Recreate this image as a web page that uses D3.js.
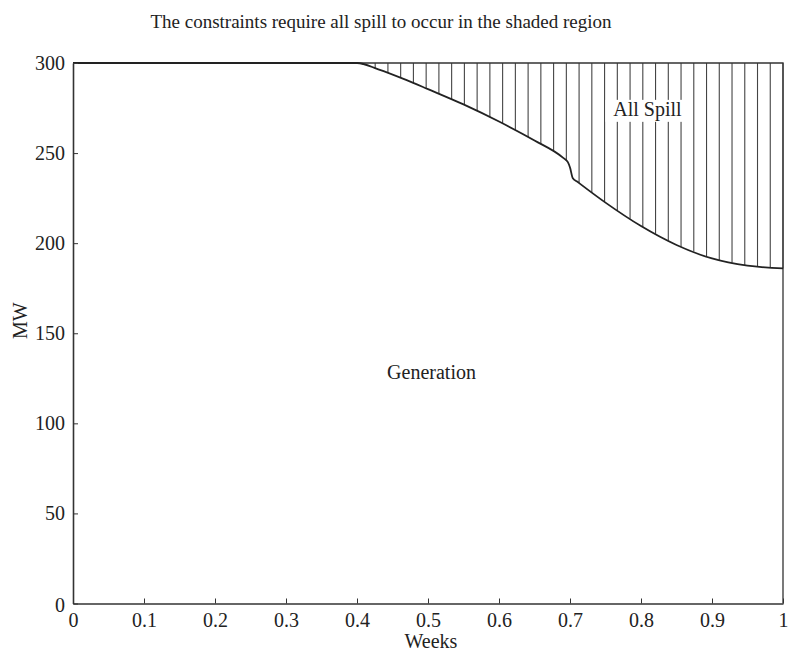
<!DOCTYPE html>
<html>
<head>
<meta charset="utf-8">
<script src="https://cdn.jsdelivr.net/npm/d3@7"></script>
<style>
  html, body { margin: 0; padding: 0; background: #fff; }
  svg { display: block; }
  text { font-family: "Liberation Serif", "DejaVu Serif", serif; fill: #222; }
</style>
</head>
<body>
<svg id="chart" width="789" height="655"></svg>
<script>
// Upper limit on generation (MW) over the week
const weeks = [0.00, 0.10, 0.20, 0.30, 0.40, 0.43, 0.47, 0.50, 0.55, 0.60, 0.65, 0.69, 0.697,
               0.700, 0.704, 0.71, 0.75, 0.80, 0.85, 0.90, 0.95, 1.00];
const maxGen = [300, 300, 300, 300, 300, 296.5, 290.5, 285.5, 277, 267.5, 257, 247.5, 245,
                242, 236, 234.2, 222.5, 209.5, 199, 191.5, 187.5, 186];
const capacity = 300;
const xTicks = [0, 0.1, 0.2, 0.3, 0.4, 0.5, 0.6, 0.7, 0.8, 0.9, 1];
const xTickLabels = ["0", "0.1", "0.2", "0.3", "0.4", "0.5", "0.6", "0.7", "0.8", "0.9", "1"];
const yTicks = [0, 50, 100, 150, 200, 250, 300];
const yTickLabels = ["0", "50", "100", "150", "200", "250", "300"];

const svg = d3.select("#chart");
const margin = { left: 73, right: 6, top: 63, bottom: 52 };
const W = 789, H = 655;

const x = d3.scaleLinear().domain([0, 1]).range([margin.left, W - margin.right]);
const y = d3.scaleLinear().domain([0, 300]).range([H - margin.bottom + 0.5, margin.top]);

const pts = weeks.map((w, i) => ({ w, v: maxGen[i] }));
const interp = (w) => {
  for (let i = 1; i < pts.length; i++) {
    if (w <= pts[i].w) {
      const a = pts[i - 1], b = pts[i];
      return a.v + (b.v - a.v) * (w - a.w) / (b.w - a.w);
    }
  }
  return pts[pts.length - 1].v;
};

// Vertical hatching over the spill region
const hatchStep = 0.01795;
const hatchX = d3.range(1, 0.4, -hatchStep);
svg.append("g")
  .selectAll("line")
  .data(hatchX)
  .join("line")
  .attr("x1", d => x(d)).attr("x2", d => x(d))
  .attr("y1", y(capacity))
  .attr("y2", d => y(interp(d)))
  .attr("stroke", "#444")
  .attr("stroke-width", 1.1);

// Capacity line and right edge
svg.append("path")
  .attr("d", `M${x(0)},${y(capacity)}H${x(1)}V${y(0)}`)
  .attr("fill", "none").attr("stroke", "#333").attr("stroke-width", 1.3);

// Region labels (spill label sits on a white patch over the hatching)
const spillLabel = svg.append("g").attr("transform", `translate(${x(0.809)},${y(274)})`);
spillLabel.append("rect").attr("x", -42).attr("y", -10).attr("width", 84).attr("height", 22).attr("fill", "#fff");
spillLabel.append("text").attr("text-anchor", "middle").attr("dy", "0.32em")
  .attr("font-size", 20).text("All Spill");

svg.append("text").attr("x", x(0.505)).attr("y", y(128)).attr("text-anchor", "middle")
  .attr("dy", "0.32em").attr("font-size", 20).text("Generation");

// Generation limit curve
svg.append("path")
  .datum(pts)
  .attr("fill", "none")
  .attr("stroke", "#222")
  .attr("stroke-width", 1.8)
  .attr("d", d3.line().x(d => x(d.w)).y(d => y(d.v)).curve(d3.curveMonotoneX));

// Axes
const xAxis = d3.axisBottom(x).tickValues(xTicks)
  .tickFormat((d, i) => xTickLabels[i]).tickSizeInner(-5).tickSizeOuter(0).tickPadding(9);
const gx = svg.append("g").attr("transform", `translate(0,${y(0)})`).call(xAxis);
gx.select(".domain").attr("stroke", "#333").attr("stroke-width", 1.6);
gx.selectAll(".tick line").attr("stroke", "#333");
gx.selectAll(".tick text").attr("font-size", 20).attr("font-family", "Liberation Serif").attr("fill", "#222");

const yAxis = d3.axisLeft(y).tickValues(yTicks)
  .tickFormat((d, i) => yTickLabels[i]).tickSizeInner(-5).tickSizeOuter(0).tickPadding(8);
const gy = svg.append("g").attr("transform", `translate(${x(0)},0)`).call(yAxis);
gy.select(".domain").attr("stroke", "#333").attr("stroke-width", 1.6);
gy.selectAll(".tick line").attr("stroke", "#333");
gy.selectAll(".tick text").attr("font-size", 20).attr("font-family", "Liberation Serif").attr("fill", "#222");
gy.selectAll(".tick").filter(d => d === 0).select("text").attr("dy", "0.42em");

// Titles
svg.append("text").attr("x", 381).attr("y", 28).attr("text-anchor", "middle")
  .attr("font-size", 19).text("The constraints require all spill to occur in the shaded region");
svg.append("text").attr("x", 431).attr("y", 648).attr("text-anchor", "middle")
  .attr("font-size", 20).text("Weeks");
svg.append("text").attr("transform", `translate(27,${y(157)}) rotate(-90)`)
  .attr("text-anchor", "middle").attr("font-size", 20).text("MW");
</script>
</body>
</html>
